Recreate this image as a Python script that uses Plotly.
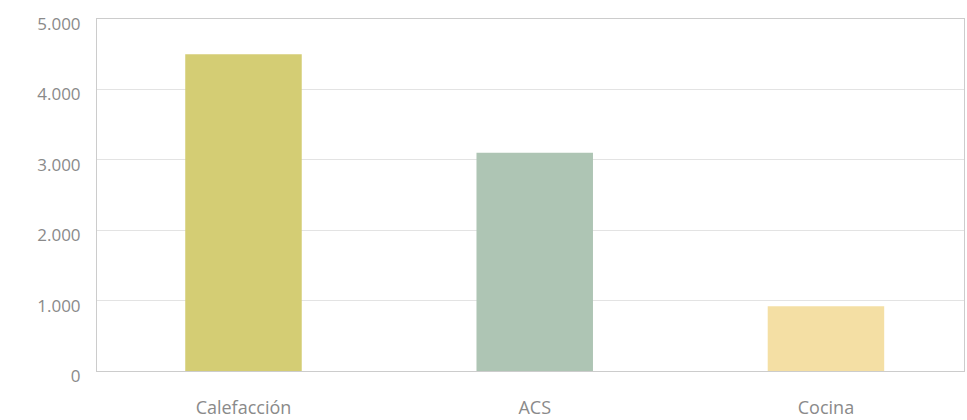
import plotly.graph_objects as go

categories = ["Calefacción", "ACS", "Cocina"]
values = [4500, 3100, 920]
colors = ["#d4cd74", "#aec5b4", "#f4dfa4"]
tick_vals = [0, 1000, 2000, 3000, 4000, 5000]
tick_text = ["0", "1.000", "2.000", "3.000", "4.000", "5.000"]

fig = go.Figure(go.Bar(x=categories, y=values, marker=dict(color=colors, line=dict(width=0)), width=0.4))

fig.update_layout(
    width=967, height=420,
    margin=dict(l=97, r=3, t=19, b=49),
    paper_bgcolor="white", plot_bgcolor="white",
    showlegend=False,
    font=dict(family="Open Sans", size=16, color="#8a8a8a"),
)
fig.update_yaxes(
    range=[0, 5000], tickvals=tick_vals, ticktext=tick_text,
    tickfont=dict(size=17), automargin=False,
    showgrid=True, gridcolor="#e3e3e3", gridwidth=1,
    showline=True, linecolor="#cccccc", linewidth=1, mirror=True,
    ticks="", ticklabelstandoff=12, ticklabelshift=5, zeroline=False,
)
fig.update_xaxes(
    range=[-0.503, 2.474],
    tickfont=dict(size=18), automargin=False,
    showline=True, linecolor="#cccccc", linewidth=1, mirror=True,
    ticks="", ticklabelstandoff=20,
)
fig.write_html("out.html")
